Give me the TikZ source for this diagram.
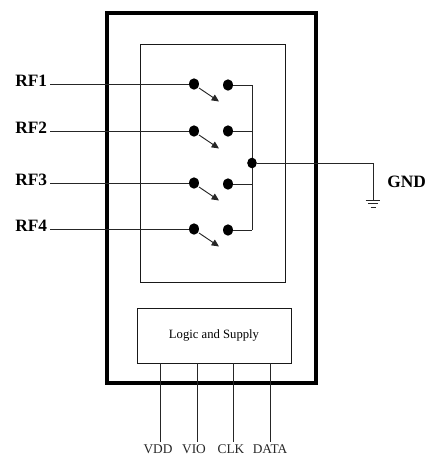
\documentclass[tikz,border=0pt]{standalone}
\usepackage{fontspec}
\setmainfont{Liberation Serif}
\usetikzlibrary{arrows.meta,shapes.geometric}
\begin{document}
\begin{tikzpicture}[x=0.75pt,y=-0.75pt,
  box/.style={draw=black!90,line width=0.6pt,fill=none,inner sep=0pt,outer sep=0pt,anchor=north west},
  dot/.style={ellipse,fill=black,inner sep=0pt,outer sep=0pt,minimum width=7.4pt,minimum height=8.6pt},
  wire/.style={draw=black!85,line width=0.7pt},
  sw/.style={draw=black!85,line width=0.7pt,-{Triangle[length=5.5pt,width=5pt]}},
  port/.style={font=\bfseries\fontsize{13pt}{15pt}\selectfont,inner sep=0pt},
  pin/.style={font=\fontsize{10pt}{12pt}\selectfont,inner sep=0pt,text=black!85}]
\useasboundingbox (0,0) rectangle (427,458);
\node[draw=black,line width=2.6pt,minimum width=156.75pt,minimum height=277.5pt,inner sep=0pt,outer sep=0pt,anchor=north west] (outer) at (107,13) {};
\node[box,minimum width=108.75pt,minimum height=178.5pt] (inner) at (140,44) {};
\node[box,minimum width=115.5pt,minimum height=41.25pt,font=\fontsize{9.5pt}{11pt}\selectfont] (logic) at (137,308) {Logic and Supply};
\foreach \n/\y/\yr in {1/84/85,2/131/131,3/183/184,4/229/230}{
  \node[port,anchor=west] (rf\n) at (15,{\y-3}) {RF\n};
  \node[dot] (a\n) at (194,\y) {};
  \node[dot] (b\n) at (228,\yr) {};
  \coordinate (p\n) at (252,\yr);
  \coordinate (s0\n) at (199,{\y+4});
  \coordinate (s\n) at (219,{\y+17.5});
  \draw[wire] (50,\y) -- (a\n);
  \draw[wire] (b\n) -- (p\n);
  \draw[sw] (s0\n) -- (s\n);
}
\draw[wire] (p1) -- (p4);
\node[dot,minimum width=7.2pt,minimum height=8pt] (j) at (252,163) {};
\coordinate (c) at (373,163);
\coordinate (g) at (373,200);
\draw[wire] (j) -- (c) -- (g);
\draw[wire] ([xshift=-5.6pt]g) -- ([xshift=5.6pt]g);
\draw[wire,line width=0.6pt] ([shift={(-5,3.5)}]g) -- ([shift={(5,3.5)}]g);
\draw[wire,line width=0.5pt] ([shift={(-2.5,7)}]g) -- ([shift={(2.5,7)}]g);
\node[port,anchor=west] (gnd) at (387,182) {GND};
\foreach \n/\t/\x/\lx in {vdd/VDD/160/158,vio/VIO/197/194,clk/CLK/233/231,data/DATA/270/270}{
  \coordinate (t\n) at (\x,363);
  \node[pin] (\n) at (\lx,449.5) {\t};
  \coordinate (e\n) at (\x,441.5);
  \draw[wire] (t\n) -- (e\n);
}
\end{tikzpicture}
\end{document}
